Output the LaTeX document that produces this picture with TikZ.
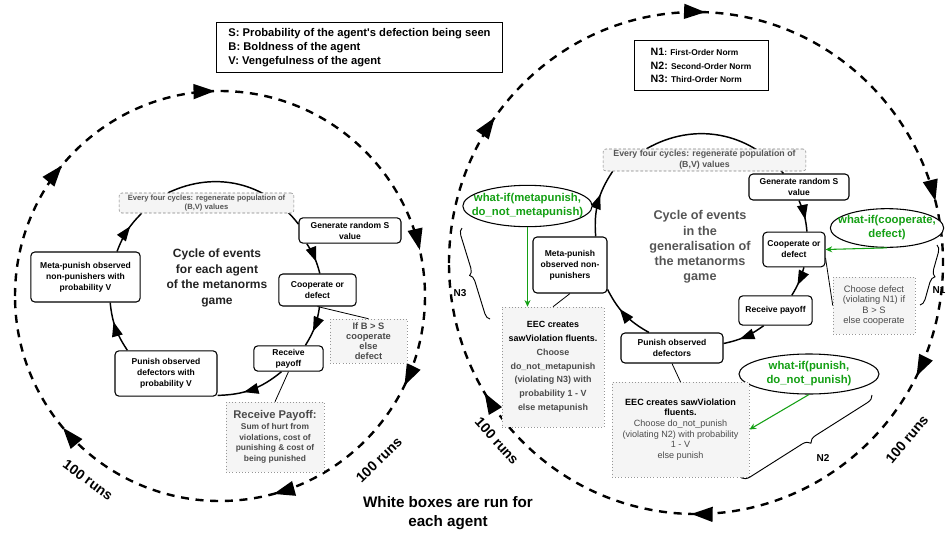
\documentclass[tikz,border=0pt]{standalone}
\usepackage{fontspec}
\setmainfont{Liberation Sans}
\usetikzlibrary{arrows.meta, calc, shapes.geometric, decorations.pathreplacing, decorations.markings, backgrounds}
\definecolor{whatifgreen}{RGB}{20,160,20}
\definecolor{notefill}{RGB}{245,245,245}
\definecolor{notetext}{RGB}{75,75,75}
\definecolor{noteborder}{RGB}{150,150,150}
\definecolor{titlegray}{RGB}{85,85,85}
\newcommand{\normname}[1]{{\fontsize{8}{10}\selectfont #1}}

\tikzset{
  loophead/.tip={Triangle[length=16pt,width=11pt]},
  cyclehead/.tip={Triangle[length=11pt,width=8pt]},
  agentbox/.style={draw, rounded corners=3pt, line width=0.8pt, fill=white, align=center, inner sep=1pt, font=\fontsize{6.4}{8.2}\selectfont\bfseries},
  notebox/.style={draw=noteborder, dotted, fill=notefill, align=center, inner sep=1pt, text=notetext, font=\fontsize{6.3}{8}\selectfont\bfseries},
  regenbox/.style={draw=gray, dash pattern=on 2pt off 1.5pt, rounded corners=2pt, fill=notefill, align=center, inner sep=1pt, text=titlegray, font=\fontsize{5.7}{7.2}\selectfont\bfseries},
  whatif/.style={ellipse, draw, line width=0.8pt, fill=white, text=whatifgreen, align=center, inner xsep=-10pt, inner ysep=-5pt, font=\fontsize{8.5}{10.5}\selectfont\bfseries},
  legendbox/.style={draw, line width=0.7pt, fill=white, align=left, inner sep=2pt},
  cycletitle/.style={align=center, font=\fontsize{9}{11.6}\selectfont\bfseries},
  runloop/.style={line width=1.8pt, dash pattern=on 6pt off 5pt, postaction={decorate}},
  cycarrow/.style={line width=1.1pt, postaction={decorate}, decoration={markings, mark=at position 0.62 with {\arrow{cyclehead}}}},
  cycline/.style={line width=1.1pt},
  link/.style={line width=0.6pt},
  greenarrow/.style={-{Stealth[length=5pt,width=4.5pt]}, whatifgreen, line width=0.8pt},
  brc/.style={decorate, decoration={brace, amplitude=5pt}, line width=0.7pt},
  normlabel/.style={font=\fontsize{7.5}{8}\selectfont\bfseries},
  runs/.style={font=\fontsize{10.5}{12}\selectfont\bfseries},
}

\begin{document}
\begin{tikzpicture}[x=0.75pt, y=0.75pt]
    \useasboundingbox (0,0) rectangle (947,-536);

    % Outer run loops
    \draw[runloop, decoration={markings,
        mark=at position 0.11 with {\arrow{loophead}},
        mark=at position 0.246 with {\arrow{loophead}},
        mark=at position 0.464 with {\arrow{loophead}},
        mark=at position 0.572 with {\arrow{loophead}},
        mark=at position 0.708 with {\arrow{loophead}},
        mark=at position 0.889 with {\arrow{loophead}}}]
        (220,-296) ++(180:205) arc[start angle=180, end angle=-180, radius=205];
    \draw[runloop, decoration={markings,
        mark=at position 0.099 with {\arrow{loophead}},
        mark=at position 0.256 with {\arrow{loophead}},
        mark=at position 0.46 with {\arrow{loophead}},
        mark=at position 0.575 with {\arrow{loophead}},
        mark=at position 0.753 with {\arrow{loophead}},
        mark=at position 0.913 with {\arrow{loophead}}}]
        (696,-263) ++(180:247) arc[start angle=180, end angle=-180, x radius=247, y radius=251];

    \node[runs, rotate=-36] (runsl1) at (88,-480) {100 runs};
    \node[runs, rotate=44] (runsl2) at (379,-460) {100 runs};
    \node[runs, rotate=-48] (runsr1) at (497,-441) {100 runs};
    \node[runs, rotate=50] (runsr2) at (907,-439) {100 runs};

    % Legends
    \node[legendbox, minimum width=214pt, minimum height=38pt, font=\fontsize{8.4}{10.5}\selectfont\bfseries] (vars) at (359.5,-47.5)
        {S: Probability of the agent\textquotesingle s defection being seen\\B: Boldness of the agent\\V: Vengefulness of the agent};
    \node[legendbox, minimum width=100.5pt, minimum height=38pt, font=\fontsize{6.3}{10}\selectfont\bfseries] (norms) at (701,-65.5)
        {\normname{N1}: First-Order Norm\\\normname{N2:} Second-Order Norm\\\normname{N3:} Third-Order Norm};

    % Left cycle: metanorms game
    \node[cycletitle, text={rgb,255:red,34;green,34;blue,34}] (cyc) at (217,-278) {Cycle of events\\for each agent\\of the metanorms\\game};
    \node[regenbox, minimum width=131pt, minimum height=15pt] (regen) at (206.5,-203) {Every four cycles: regenerate population of\\(B,V) values};
    \node[agentbox, minimum width=76.5pt, minimum height=19pt] (gen) at (350,-230.5) {Generate random S\\value};
    \node[agentbox, minimum width=58pt, minimum height=24pt] (coop) at (317.5,-290) {Cooperate or\\defect};
    \node[agentbox, minimum width=52pt, minimum height=19pt] (rp) at (288.5,-358.5) {Receive\\payoff};
    \node[agentbox, minimum width=76.5pt, minimum height=34pt] (punish) at (166,-373.5) {Punish observed\\defectors with\\probability V};
    \node[agentbox, minimum width=82pt, minimum height=37.5pt] (meta) at (85.5,-277) {Meta-punish observed\\non-punishers with\\probability V};
    \node[notebox, font=\fontsize{7}{7.6}\selectfont\bfseries, minimum width=58pt, minimum height=33pt] (ifbs) at (368.5,-341) {If B > S\\cooperate\\else\\defect};
    \node[notebox, minimum width=73.5pt, minimum height=52.5pt] (rpnote) at (275,-437)
        {{\fontsize{8.4}{10}\selectfont Receive Payoff:}\\Sum of hurt from\\violations, cost of\\punishing \& cost of\\being punished};

    % Right cycle: generalisation
    \node[cycletitle, font=\fontsize{9.5}{11.4}\selectfont\bfseries, text=titlegray] (cyc2) at (700,-247) {Cycle of events\\in the\\generalisation of\\the metanorms\\game};
    \node[regenbox, font=\fontsize{6.6}{8}\selectfont\bfseries, minimum width=152pt, minimum height=16.5pt] (regen2) at (704.5,-160) {Every four cycles: regenerate population of\\(B,V) values};
    \node[agentbox, minimum width=75pt, minimum height=19.5pt] (gen2) at (799,-187) {Generate random S\\value};
    \node[agentbox, minimum width=46.5pt, minimum height=26pt] (coop2) at (794,-249.5) {Cooperate or\\defect};
    \node[agentbox, minimum width=55pt, minimum height=22pt] (rp2) at (775.5,-310.5) {Receive payoff};
    \node[agentbox, minimum width=76.5pt, minimum height=22.5pt] (punish2) at (672,-348) {Punish observed\\defectors};
    \node[agentbox, minimum width=55.5pt, minimum height=42pt] (meta2) at (570,-265) {Meta-punish\\observed non-\\punishers};
    \node[whatif, minimum width=97pt, minimum height=31pt] (wimeta) at (527.5,-206) {what-if(metapunish,\\do\_not\_metapunish)};
    \node[whatif, minimum width=85pt, minimum height=29pt] (wicoop) at (887,-228) {what-if(cooperate,\\defect)};
    \node[whatif, minimum width=105pt, minimum height=30pt] (wipunish) at (809,-374) {what-if(punish,\\do\_not\_punish)};
    \node[notebox, font=\fontsize{7}{7.7}\selectfont, minimum width=61.5pt, minimum height=43pt] (choose) at (874,-305.5)
        {Choose defect\\(violating N1) if\\B > S\\else cooperate};
    \node[notebox, font=\fontsize{6.7}{10.3}\selectfont\bfseries, minimum width=76.5pt, minimum height=90pt] (eec3) at (553,-367)
        {\textcolor{black}{EEC creates}\\\textcolor{black}{sawViolation fluents.}\\Choose\\do\_not\_metapunish\\(violating N3) with\\probability 1 - V\\else metapunish};
    \node[notebox, font=\fontsize{6.8}{8}\selectfont, minimum width=103pt, minimum height=71pt] (eec2) at (680.5,-429.5)
        {\textbf{\textcolor{black}{EEC creates sawViolation}}\\\textbf{\textcolor{black}{fluents.}}\\Choose do\_not\_punish\\(violating N2) with probability\\1 - V\\else punish};

    % Norm braces
    \coordinate (n3bot) at (490,-319);
    \coordinate (n3top) at (462,-228);
    \coordinate (n1top) at (937,-245);
    \coordinate (n1bot) at (920,-305);
    \coordinate (n2top) at (872,-395);
    \coordinate (n2bot) at (741,-478);
    \draw[brc] (n3bot) -- (n3top);
    \draw[brc] (n1top) -- (n1bot);
    \draw[brc, decoration={brace, amplitude=6pt}] (n2top) -- (n2bot);
    \node[normlabel] (n3lbl) at (460,-293) {N3};
    \node[normlabel] (n1lbl) at (939,-290) {N1};
    \node[normlabel] (n2lbl) at (823,-458) {N2};

    \node[align=center, font=\fontsize{11.4}{14}\selectfont\bfseries] (white) at (448,-513) {White boxes are run for\\each agent};

    \begin{scope}[on background layer]
        % Left cycle connectors
        \draw[cycarrow] (meta.39) to[bend left=12] (regen.189);
        \draw[cycline] (regen.165) to[bend left=39] (gen.173);
        \draw[cycarrow] (gen.197) to[bend left=9] (coop.82);
        \draw[cycarrow] (coop.-83) to[bend left=12] (rp.38);
        \draw[cycarrow] (rp.242) to[bend left=19] (punish.-23);
        \draw[cycarrow] (punish.149) to[bend left=14] (meta.-46);
        \draw[link] (coop.south) -- (ifbs.north);
        \draw[link] (rp.south) -- (rpnote.north);

        % Right cycle connectors
        \draw[cycarrow] (meta2.48) to[bend left=19] (regen2.187);
        \draw[cycline] (regen2.169) to[bend left=40] (gen2.139);
        \draw[cycarrow] (gen2.south) to[bend left=9] (coop2.54);
        \draw[cycarrow] (coop2.-61) to[bend left=8] (rp2.43);
        \draw[cycarrow] (rp2.232) to[bend left=12] (punish2.5);
        \draw[cycarrow] (punish2.146) to[bend left=17] (meta2.-33);
        \draw[link] (coop2.-15) -- (choose.west);
        \draw[link] (meta2.south) -- (eec3.north);
        \draw[link] (punish2.south) -- (eec2.north);
    \end{scope}

    % What-if links
    \draw[greenarrow] (wimeta.south) -- (wimeta.south |- eec3.north);
    \draw[greenarrow] (wicoop.south) -- (coop2.east);
    \draw[greenarrow] (wipunish.south) -- (eec2.east);
\end{tikzpicture}
\end{document}
